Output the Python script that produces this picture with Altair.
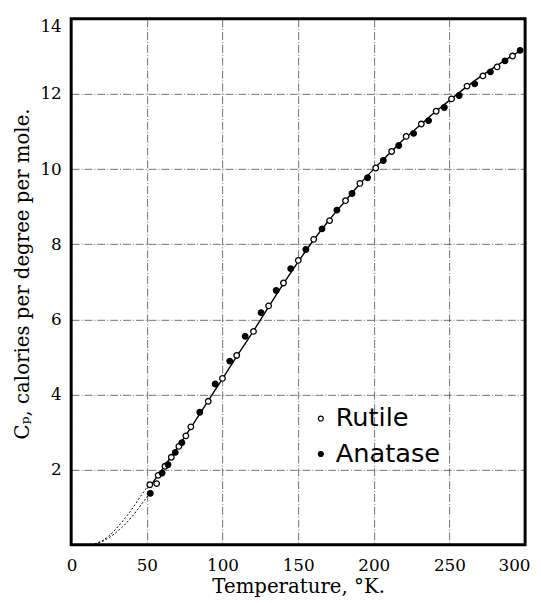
import altair as alt
import pandas as pd

# --- data ---
rutile_T = [52.0, 56.5, 57.5, 62.0, 66.2, 71.2, 75.8, 79.1, 90.6, 100.0, 109.4, 120.5,
            130.5, 140.3, 150.1, 160.3, 170.8, 181.3, 190.8, 201.3, 211.8, 221.4,
            231.4, 241.2, 251.4, 261.6, 272.1, 281.5, 291.7]
rutile_Cp = [1.60, 1.63, 1.85, 2.09, 2.33, 2.62, 2.90, 3.14, 3.82, 4.43, 5.04, 5.68,
             6.36, 6.97, 7.57, 8.13, 8.63, 9.16, 9.62, 10.03, 10.47, 10.87,
             11.20, 11.54, 11.87, 12.21, 12.48, 12.72, 13.01]
anatase_T = [52.3, 60.1, 64.0, 68.8, 73.2, 85.0, 95.2, 104.8, 115.0, 125.5, 135.5,
             145.1, 155.1, 165.8, 175.6, 185.6, 195.9, 206.3, 216.5, 226.3, 236.2,
             246.6, 256.4, 266.7, 277.1, 286.7, 296.7]
anatase_Cp = [1.37, 1.91, 2.13, 2.46, 2.72, 3.53, 4.28, 4.89, 5.55, 6.18, 6.77,
              7.35, 7.86, 8.41, 8.91, 9.35, 9.77, 10.23, 10.63, 10.95, 11.29,
              11.64, 11.96, 12.27, 12.59, 12.88, 13.16]
curve_T = [52, 60, 70, 80, 90, 100, 110, 120, 130, 140, 150, 160, 170, 180, 190,
           200, 210, 220, 230, 240, 250, 260, 270, 280, 290, 298]
curve_Cp = [1.55, 2.00, 2.57, 3.17, 3.80, 4.42, 5.05, 5.66, 6.30, 6.93, 7.53, 8.10,
            8.62, 9.10, 9.57, 10.00, 10.40, 10.80, 11.15, 11.50, 11.83, 12.15,
            12.45, 12.72, 12.98, 13.18]
ext_rutile_T = [13, 20, 25, 30, 35, 40, 45, 51]
ext_rutile_Cp = [0.0, 0.10, 0.24, 0.44, 0.68, 0.94, 1.24, 1.58]
ext_anatase_T = [13, 20, 25, 30, 35, 40, 45, 51]
ext_anatase_Cp = [0.0, 0.08, 0.19, 0.34, 0.52, 0.74, 1.00, 1.32]

x_ticks = [0, 50, 100, 150, 200, 250, 300]
y_ticks = [2, 4, 6, 8, 10, 12, 14]

points = pd.DataFrame({
    "T": rutile_T + anatase_T,
    "Cp": rutile_Cp + anatase_Cp,
    "substance": ["Rutile"] * len(rutile_T) + ["Anatase"] * len(anatase_T),
})
curve = pd.DataFrame({"T": curve_T, "Cp": curve_Cp})
ext = pd.DataFrame({
    "T": ext_rutile_T + ext_anatase_T,
    "Cp": ext_rutile_Cp + ext_anatase_Cp,
    "s": ["Rutile"] * len(ext_rutile_T) + ["Anatase"] * len(ext_anatase_T),
})

xscale = alt.Scale(domain=[0, 300], nice=False, zero=False)
yscale = alt.Scale(domain=[0, 14], nice=False)

grid_style = dict(grid=True, gridColor="black", gridOpacity=0.7, gridWidth=0.8,
                  gridDash=[8, 2, 1, 2], ticks=False, domain=False,
                  labelFont="DejaVu Serif", labelFontSize=17, labelColor="black",
                  titleFont="DejaVu Serif", titleFontSize=20, titleFontWeight="normal",
                  titleColor="black")

xaxis = alt.Axis(values=x_ticks, title="Temperature, °K.", labelPadding=13,
                 titlePadding=3, labelFlush=True, labelFlushOffset=5, **grid_style)
yaxis = alt.Axis(values=y_ticks, title="Cₚ, calories per degree per mole.",
                 labelPadding=10, titlePadding=8, labelFlush=True, titleY=258,
                 **grid_style)

X = alt.X("T:Q", scale=xscale, axis=xaxis)
Y = alt.Y("Cp:Q", scale=yscale, axis=yaxis)

line = alt.Chart(curve).mark_line(color="black", strokeWidth=1.4, interpolate="monotone").encode(
    x=X, y=Y,
)

dash = alt.Chart(ext).mark_line(color="black", strokeWidth=1, strokeDash=[2, 2],
                                interpolate="monotone").encode(
    x=X, y=Y, detail="s:N",
)

pts = alt.Chart(points).mark_circle(stroke="black", strokeWidth=1.3, size=32, opacity=1).encode(
    x=X, y=Y,
    fill=alt.Fill("substance:N",
                  scale=alt.Scale(domain=["Rutile", "Anatase"], range=["white", "black"]),
                  legend=alt.Legend(orient="none", legendX=240, legendY=392, title=None,
                                    labelFont="DejaVu Sans", labelFontSize=26,
                                    labelColor="black", symbolType="circle",
                                    symbolSize=25, symbolStrokeColor="black",
                                    symbolStrokeWidth=1.2, rowPadding=10,
                                    labelOffset=2, padding=0)),
)

chart = alt.layer(line, dash, pts).properties(
    width=460, height=533,
    padding={"left": 4, "top": 6, "right": 3, "bottom": 5},
).configure_view(stroke="black", strokeWidth=3)

chart.save("out.html", embed_options={"renderer": "svg", "actions": False})
